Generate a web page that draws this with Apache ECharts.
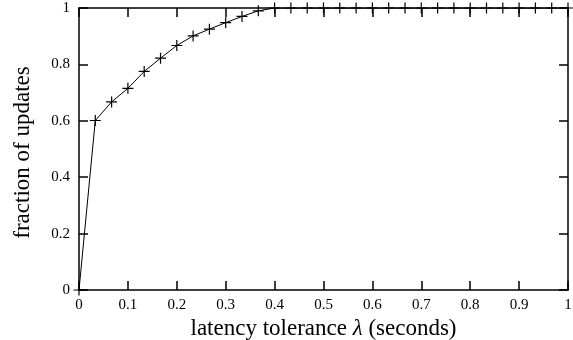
<!DOCTYPE html>
<html><head><meta charset="utf-8">
<script src="https://cdn.jsdelivr.net/npm/echarts@6/dist/echarts.min.js"></script>
<style>html,body{margin:0;padding:0;background:#fff}#c{width:573px;height:340px}</style>
</head><body><div id="c"></div>
<script>
const xValues = [0, 0.0333, 0.0667, 0.1, 0.1333, 0.1667, 0.2, 0.2333, 0.2667, 0.3, 0.3333, 0.3667, 0.4, 0.4333, 0.4667, 0.5, 0.5333, 0.5667, 0.6, 0.6333, 0.6667, 0.7, 0.7333, 0.7667, 0.8, 0.8333, 0.8667, 0.9, 0.9333, 0.9667, 1.0];
const yValues = [0, 0.601, 0.667, 0.715, 0.775, 0.822, 0.867, 0.901, 0.925, 0.948, 0.970, 0.990, 1, 1, 1, 1, 1, 1, 1, 1, 1, 1, 1, 1, 1, 1, 1, 1, 1, 1, 1];
const xLabel = 'latency tolerance λ (seconds)';
const yLabel = 'fraction of updates';

const chart = echarts.init(document.getElementById('c'), null, {renderer: 'canvas'});
const font = '"Liberation Serif", "DejaVu Serif", serif';
const axisCommon = {
  min: 0, max: 1, interval: 0.1,
  axisLine: {show: true, onZero: false, lineStyle: {color: '#000', width: 1.5}},
  axisTick: {show: true, inside: true, length: 9, lineStyle: {color: '#000', width: 1.5}},
  splitLine: {show: false},
};
chart.setOption({
  animation: false,
  grid: {left: 79, right: 5, top: 8, bottom: 50, containLabel: false, outerBoundsMode: 'none'},
  xAxis: [
    Object.assign({}, axisCommon, {type: 'value', position: 'bottom',
      axisLabel: {color: '#000', fontFamily: font, fontSize: 15, margin: 8,
        formatter: v => (Math.round(v*10)/10).toString()},
      name: '{n|latency tolerance }{l|λ}{n| (seconds)}', nameLocation: 'middle', nameGap: 24,
      nameTextStyle: {rich: {n: {fontFamily: font, fontSize: 23, color: '#000'}, l: {fontFamily: font, fontSize: 23, fontStyle: 'italic', color: '#000'}}}
    }),
    Object.assign({}, axisCommon, {type: 'value', position: 'top', axisLabel: {show: false}})
  ],
  yAxis: [
    Object.assign({}, axisCommon, {type: 'value', position: 'left', interval: 0.2,
      axisLabel: {color: '#000', fontFamily: font, fontSize: 15, margin: 9,
        formatter: v => (Math.round(v*10)/10).toString()},
      name: yLabel, nameLocation: 'middle', nameGap: 45,
      nameTextStyle: {fontFamily: font, fontSize: 23, color: '#000', padding: [0, 7, 0, 0]}
    }),
    Object.assign({}, axisCommon, {type: 'value', position: 'right', interval: 0.2, axisLabel: {show: false}})
  ],
  series: [{
    type: 'line',
    data: xValues.map((x, i) => [x, yValues[i]]),
    lineStyle: {color: '#000', width: 1},
    symbol: 'path://M0,5L10,5M5,0L5,10',
    symbolSize: 11,
    itemStyle: {color: 'none', borderColor: '#000', borderWidth: 1.2},
    showSymbol: true,
    z: 5
  }]
});
</script></body></html>
